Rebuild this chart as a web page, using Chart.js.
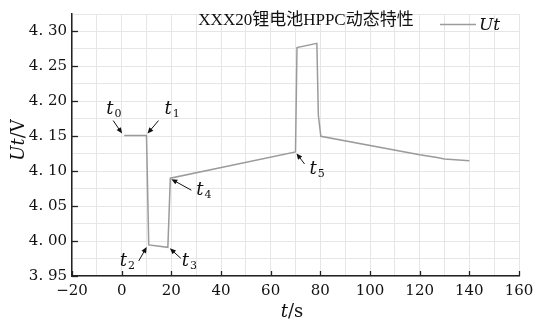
<!DOCTYPE html>
<html>
<head>
<meta charset="utf-8">
<script src="https://cdn.jsdelivr.net/npm/chart.js@4/dist/chart.umd.min.js"></script>
<style>
  html, body { margin: 0; padding: 0; background: #fff; }
  #wrap { width: 547px; height: 323px; }
</style>
</head>
<body>
<div id="wrap"><canvas id="c" width="547" height="323"></canvas></div>
<script>
// 时间 (s) 与端电压 (V)
const timeS = [1, 10, 10.9, 18.6, 19.6, 70, 70.6, 78.6, 79.2, 80.2, 120, 127, 130, 140];
const voltUt = [4.151, 4.151, 3.9945, 3.991, 4.090, 4.1276, 4.277, 4.283, 4.180, 4.150, 4.1235, 4.1195, 4.1175, 4.1148];

const xTickLabels = [-20, 0, 20, 40, 60, 80, 100, 120, 140, 160];
const xGrid = [-20, -10, 0, 10, 20, 30, 40, 50, 60, 70, 80, 90, 100, 110, 120, 130, 140, 150, 160];
const yTickLabels = [3.95, 4.00, 4.05, 4.10, 4.15, 4.20, 4.25, 4.30];
const yGrid = [3.95, 3.975, 4.00, 4.025, 4.05, 4.075, 4.10, 4.125, 4.15, 4.175, 4.20, 4.225, 4.25, 4.275, 4.30, 4.325];

const chartTitle = 'XXX20锂电池HPPC动态特性';
const seriesName = 'Ut';

// 标注: 指向的数据点索引
const marks = [
  { sub: '0', idx: 0 },
  { sub: '1', idx: 1 },
  { sub: '2', idx: 2 },
  { sub: '3', idx: 3 },
  { sub: '4', idx: 4 },
  { sub: '5', idx: 5 }
];
// 文字与箭头相对目标点的偏移 (px)
const markStyle = {
  '0': { tx: -18, ty: -22, ax: -11, ay: -15, bx: -2, by: -2 },
  '1': { tx: 18, ty: -22, ax: 12, ay: -15, bx: 1, by: -2 },
  '2': { tx: -29, ty: 21, ax: -10, ay: 16, bx: -2, by: 2 },
  '3': { tx: 14, ty: 19, ax: 13, ay: 11, bx: 2, by: 1 },
  '4': { tx: 26, ty: 17, ax: 21, ay: 12, bx: 1, by: 1 },
  '5': { tx: 14, ty: 22, ax: 9, ay: 12, bx: 1, by: 1.5 }
};

const serif = '"DejaVu Serif", "Liberation Serif", serif';
const axisColor = '#222';
const gridColor = '#e6e6e6';

function fmtY(v) {
  return v.toFixed(2).replace('.', '. ');
}
function fmtX(v) {
  return v < 0 ? '\u2212' + Math.abs(v) : String(v);
}
function isMajor(list, v) {
  return list.some(t => Math.abs(t - v) < 1e-6);
}

function arrow(ctx, x0, y0, x1, y1) {
  const ang = Math.atan2(y1 - y0, x1 - x0);
  const len = 6, w = 2.6;
  ctx.beginPath();
  ctx.moveTo(x0, y0);
  ctx.lineTo(x1 - Math.cos(ang) * len * 0.8, y1 - Math.sin(ang) * len * 0.8);
  ctx.stroke();
  ctx.beginPath();
  ctx.moveTo(x1, y1);
  ctx.lineTo(x1 - Math.cos(ang) * len - Math.sin(ang) * w, y1 - Math.sin(ang) * len + Math.cos(ang) * w);
  ctx.lineTo(x1 - Math.cos(ang) * len + Math.sin(ang) * w, y1 - Math.sin(ang) * len - Math.cos(ang) * w);
  ctx.closePath();
  ctx.fill();
}

const decor = {
  id: 'decor',
  afterDraw(chart) {
    const ctx = chart.ctx;
    const xs = chart.scales.x, ys = chart.scales.y;
    const area = chart.chartArea;
    ctx.save();

    // 内向刻度线
    ctx.strokeStyle = axisColor;
    ctx.lineWidth = 1.3;
    xTickLabels.forEach(v => {
      const px = Math.round(xs.getPixelForValue(v)) + 0.5;
      ctx.beginPath(); ctx.moveTo(px, area.bottom); ctx.lineTo(px, area.bottom - 5); ctx.stroke();
    });
    yTickLabels.forEach(v => {
      const py = Math.round(ys.getPixelForValue(v)) + 0.5;
      ctx.beginPath(); ctx.moveTo(area.left, py); ctx.lineTo(area.left + 6, py); ctx.stroke();
    });

    // 标题
    ctx.fillStyle = '#111';
    ctx.font = '17px "Liberation Serif", "Noto Sans CJK SC", serif';
    ctx.textAlign = 'center';
    ctx.textBaseline = 'alphabetic';
    ctx.fillText(chartTitle, 306, 25);

    // 图例
    const ds = chart.data.datasets[0];
    ctx.strokeStyle = ds.borderColor;
    ctx.lineWidth = 1.5;
    ctx.beginPath(); ctx.moveTo(440, 24.5); ctx.lineTo(476, 24.5); ctx.stroke();
    ctx.fillStyle = '#111';
    ctx.textAlign = 'left';
    ctx.font = 'italic 17px ' + serif;
    ctx.fillText(ds.label, 479, 30);

    // 坐标轴标题
    ctx.font = 'italic 18px ' + serif;
    const tW = ctx.measureText('t').width;
    ctx.font = '18px ' + serif;
    const sW = ctx.measureText('/s').width;
    let x0 = 292 - (tW + sW) / 2;
    ctx.font = 'italic 18px ' + serif;
    ctx.fillText('t', x0, 317);
    ctx.font = '18px ' + serif;
    ctx.fillText('/s', x0 + tW, 317);

    ctx.save();
    ctx.translate(24, 140);
    ctx.rotate(-Math.PI / 2);
    ctx.font = 'italic 18px ' + serif;
    const uW = ctx.measureText('Ut').width;
    ctx.font = '18px ' + serif;
    const vW = ctx.measureText('/V').width;
    let y0 = -(uW + vW) / 2;
    ctx.font = 'italic 18px ' + serif;
    ctx.fillText('Ut', y0, 0);
    ctx.font = '18px ' + serif;
    ctx.fillText('/V', y0 + uW, 0);
    ctx.restore();

    // t0..t5 标注
    ctx.strokeStyle = '#111';
    ctx.fillStyle = '#111';
    ctx.lineWidth = 1;
    marks.forEach(m => {
      const st = markStyle[m.sub];
      const px = xs.getPixelForValue(timeS[m.idx]);
      const py = ys.getPixelForValue(voltUt[m.idx]);
      arrow(ctx, px + st.ax, py + st.ay, px + st.bx, py + st.by);
      ctx.font = 'italic 18px ' + serif;
      ctx.fillText('t', px + st.tx, py + st.ty);
      const w = ctx.measureText('t').width;
      ctx.font = '11px ' + serif;
      ctx.fillText(m.sub, px + st.tx + w + 1, py + st.ty + 3);
    });

    ctx.restore();
  }
};

new Chart(document.getElementById('c'), {
  type: 'line',
  data: {
    datasets: [{
      label: seriesName,
      data: timeS.map((t, i) => ({ x: t, y: voltUt[i] })),
      borderColor: '#9b9b9b',
      borderWidth: 1.5,
      pointRadius: 0,
      tension: 0,
      fill: false
    }]
  },
  options: {
    responsive: false,
    animation: false,
    layout: { padding: { top: 4, right: 28, left: 0, bottom: 0 } },
    plugins: { legend: { display: false }, title: { display: false }, tooltip: { enabled: false } },
    scales: {
      x: {
        type: 'linear',
        min: -20, max: 160,
        afterBuildTicks: s => { s.ticks = xGrid.map(v => ({ value: v })); },
        afterFit: s => { s.height = 47; },
        ticks: {
          autoSkip: false, maxRotation: 0, padding: 6,
          color: '#111',
          font: { family: serif, size: 15 },
          callback: v => isMajor(xTickLabels, v) ? fmtX(v) : ''
        },
        grid: { color: gridColor, lineWidth: 1, drawTicks: false },
        border: { display: true, color: axisColor, width: 1.5 }
      },
      y: {
        type: 'linear',
        min: 3.95, max: 4.325,
        afterBuildTicks: s => { s.ticks = yGrid.map(v => ({ value: v })); },
        afterFit: s => { s.width = 72; },
        ticks: {
          autoSkip: false, padding: 5,
          color: '#111',
          font: { family: serif, size: 15 },
          callback: v => isMajor(yTickLabels, v) ? fmtY(v) : ''
        },
        grid: { color: gridColor, lineWidth: 1, drawTicks: false },
        border: { display: true, color: axisColor, width: 1.5 }
      }
    }
  },
  plugins: [decor]
});
</script>
</body>
</html>
